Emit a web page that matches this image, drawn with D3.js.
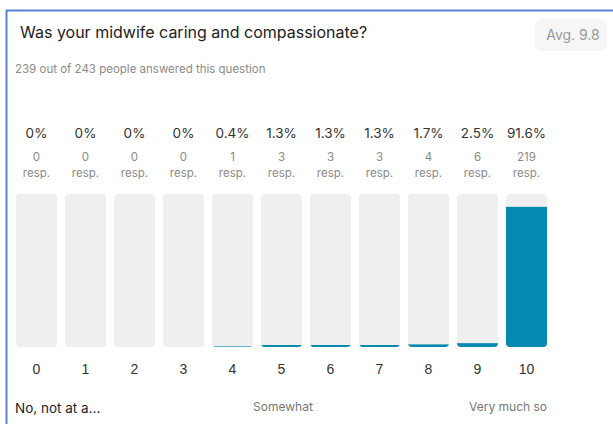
<!DOCTYPE html>
<html>
<head>
<meta charset="utf-8">
<script src="https://cdn.jsdelivr.net/npm/d3@7/dist/d3.min.js"></script>
<style>
  html, body { margin: 0; padding: 0; background: #fff; }
  svg { display: block; font-family: "Helvetica Neue", Inter, "Liberation Sans", Arial, sans-serif; }
</style>
</head>
<body>
<svg id="chart" width="613" height="424"></svg>
<script>
// Rating scale and answer distribution
const ratings = [0, 1, 2, 3, 4, 5, 6, 7, 8, 9, 10];
const percents = [0, 0, 0, 0, 0.4, 1.3, 1.3, 1.3, 1.7, 2.5, 91.6];
const responses = [0, 0, 0, 0, 1, 3, 3, 3, 4, 6, 219];
const percentLabels = ["0%", "0%", "0%", "0%", "0.4%", "1.3%", "1.3%", "1.3%", "1.7%", "2.5%", "91.6%"];
const scaleLabels = ["No, not at a...", "Somewhat", "Very much so"];

const title = "Was your midwife caring and compassionate?";
const subtitle = "239 out of 243 people answered this question";
const average = "Avg. 9.8";

const svg = d3.select("#chart");

// Card frame (left and top border)
svg.append("line").attr("x1", 6.5).attr("x2", 6.5).attr("y1", 10).attr("y2", 424)
  .attr("stroke", "#5b83d0").attr("stroke-width", 2);
svg.append("line").attr("x1", 6).attr("x2", 613).attr("y1", 10.5).attr("y2", 10.5)
  .attr("stroke", "#5b83d0").attr("stroke-width", 2);

// Header
svg.append("text").attr("x", 20).attr("y", 38)
  .attr("font-size", 16).attr("fill", "#222").text(title);
svg.append("text").attr("x", 15).attr("y", 73)
  .attr("font-size", 11.5).attr("fill", "#8a8a8a").text(subtitle);

// Average badge
svg.append("rect").attr("x", 535).attr("y", 19).attr("width", 72).attr("height", 32)
  .attr("rx", 7).attr("fill", "#f6f6f6");
svg.append("text").attr("x", 573).attr("y", 40).attr("text-anchor", "middle")
  .attr("font-size", 14).attr("fill", "#999").text(average);

// Scales
const x = d3.scaleBand().domain(ratings).range([16, 547]).paddingInner(8 / 49).paddingOuter(0);
const y = d3.scaleLinear().domain([0, 100]).range([347, 194]);
const bw = x.bandwidth();

const defs = svg.append("defs");
const groups = svg.selectAll("g.bar").data(ratings).join("g").attr("class", "bar");

// Per-bar clip so the fill follows the rounded track
groups.each(function(d, i) {
  defs.append("clipPath").attr("id", "clip" + i)
    .append("rect")
    .attr("x", x(d)).attr("y", y(100)).attr("width", bw).attr("height", y(0) - y(100))
    .attr("rx", 4);
});

groups.append("rect")
  .attr("x", d => x(d)).attr("y", y(100)).attr("width", bw).attr("height", y(0) - y(100))
  .attr("rx", 4).attr("fill", "#efefef");

groups.append("rect")
  .attr("clip-path", (d, i) => `url(#clip${i})`)
  .attr("x", d => x(d)).attr("width", bw)
  .attr("y", (d, i) => y(percents[i]))
  .attr("height", (d, i) => y(0) - y(percents[i]))
  .attr("fill", "#0689b0");

// Value labels above the bars
groups.append("text")
  .attr("x", d => x(d) + bw / 2).attr("y", 138).attr("text-anchor", "middle")
  .attr("font-size", 13.5).attr("fill", "#333")
  .text((d, i) => percentLabels[i]);
groups.append("text")
  .attr("x", d => x(d) + bw / 2).attr("y", 161).attr("text-anchor", "middle")
  .attr("font-size", 11.5).attr("fill", "#8a8a8a")
  .text((d, i) => responses[i]);
groups.append("text")
  .attr("x", d => x(d) + bw / 2).attr("y", 177).attr("text-anchor", "middle")
  .attr("font-size", 11.5).attr("fill", "#8a8a8a")
  .text("resp.");

// Rating axis
const axis = d3.axisBottom(x).tickSize(0).tickPadding(0);
const axisG = svg.append("g").attr("transform", "translate(0,364)").call(axis);
axisG.select(".domain").remove();
axisG.selectAll("text").attr("font-size", 14).attr("fill", "#333")
  .attr("font-family", null).attr("dy", "0.71em");

// Scale anchors
svg.append("text").attr("x", 15).attr("y", 413)
  .attr("font-size", 13.5).attr("fill", "#222").text(scaleLabels[0]);
svg.append("text").attr("x", 283).attr("y", 411).attr("text-anchor", "middle")
  .attr("font-size", 12).attr("fill", "#777").text(scaleLabels[1]);
svg.append("text").attr("x", 547).attr("y", 411).attr("text-anchor", "end")
  .attr("font-size", 12).attr("fill", "#777").text(scaleLabels[2]);
</script>
</body>
</html>
